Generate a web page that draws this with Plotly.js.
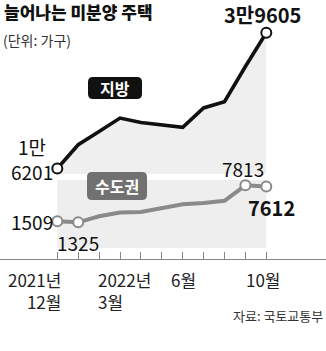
<!DOCTYPE html>
<html><head><meta charset="utf-8">
<script src="https://cdn.plot.ly/plotly-3.0.1.min.js"></script>
<style>html,body{margin:0;padding:0;background:#fff;overflow:hidden}</style>
</head><body><div id="chart" style="width:326px;height:351px"></div>
<script>
// ---- data ----
const months = ['2021-12','2022-01','2022-02','2022-03','2022-04','2022-05','2022-06','2022-07','2022-08','2022-09','2022-10'];
const jibang = [16201, 20300, 22600, 24900, 24150, 23750, 23300, 26650, 27730, 33790, 39605];
const sudogwon = [1509, 1325, 2400, 3050, 3150, 3850, 4500, 4700, 5100, 7813, 7612];
const jibangMarked = [0, 10];
const sudoMarked = [0, 1, 9, 10];
const tickLabels = [
  {i: 0, text: '2021년<br>12월'},
  {i: 3, text: '2022년<br>3월'},
  {i: 6, text: '6월'},
  {i: 10, text: '10월'}
];
const title = '늘어나는 미분양 주택';
const unit = '(단위: 가구)';
const source = '자료: 국토교통부';
const seriesNames = ['지방', '수도권'];

// ---- helpers ----
const W = 326, H = 351;
const PX = p => p / W, PY = p => 1 - p / H;
const NUM = '"Liberation Sans Narrow", "Noto Sans CJK KR", sans-serif';
const KR = '"Noto Sans CJK KR", sans-serif';
function roundRect(x0, y0, x1, y1, r) {
  const X = PX, Y = PY;
  return `M${X(x0+r)},${Y(y0)} L${X(x1-r)},${Y(y0)} Q${X(x1)},${Y(y0)} ${X(x1)},${Y(y0+r)} ` +
    `L${X(x1)},${Y(y1-r)} Q${X(x1)},${Y(y1)} ${X(x1-r)},${Y(y1)} L${X(x0+r)},${Y(y1)} ` +
    `Q${X(x0)},${Y(y1)} ${X(x0)},${Y(y1-r)} L${X(x0)},${Y(y0+r)} Q${X(x0)},${Y(y0)} ${X(x0+r)},${Y(y0)} Z`;
}
const fmtMan = (v, sep) => (v >= 10000 ? Math.floor(v / 10000) + '만' + sep : '') + String(v % 10000);

const BLACK = '#111111', GRAY = '#8a8a8a';

const traces = [
  {x: months, y: jibang, yaxis: 'y', mode: 'lines', line: {color: BLACK, width: 3.6},
   fill: 'tozeroy', fillcolor: '#efefef', hoverinfo: 'skip'},
  {x: jibangMarked.map(i => months[i]), y: jibangMarked.map(i => jibang[i]), yaxis: 'y', mode: 'markers',
   marker: {size: 10, color: '#fff', line: {color: BLACK, width: 2}}, cliponaxis: false, hoverinfo: 'skip'},
  {x: months, y: sudogwon, yaxis: 'y2', mode: 'lines', line: {color: GRAY, width: 4}, hoverinfo: 'skip'},
  {x: sudoMarked.map(i => months[i]), y: sudoMarked.map(i => sudogwon[i]), yaxis: 'y2', mode: 'markers',
   marker: {size: 10, color: '#fff', line: {color: GRAY, width: 2}}, cliponaxis: false, hoverinfo: 'skip'}
];

const annotations = [];
function paperText(text, x, y, size, opts = {}) {
  annotations.push(Object.assign({
    text, x: PX(x), y: PY(y), xref: 'paper', yref: 'paper', showarrow: false,
    xanchor: 'center', yanchor: 'middle',
    font: {family: KR, size, color: '#111'}
  }, opts));
}
function dataText(text, i, arr, axis, dx, dy, size, bold) {
  annotations.push({
    text, x: months[i], y: arr[i], xref: 'x', yref: axis, showarrow: false,
    xanchor: 'center', yanchor: 'middle', xshift: dx, yshift: dy,
    font: {family: NUM, size, color: '#111', weight: bold ? 700 : 400}
  });
}
// title / unit / source
paperText(title, 2, 12, 17, {xanchor: 'left', font: {family: KR, size: 17, color: '#111', weight: 900}});
paperText(unit, 1, 40, 14, {xanchor: 'left', font: {family: KR, size: 14, color: '#333'}});
paperText(source, 325, 315, 13, {xanchor: 'right', font: {family: KR, size: 13, color: '#333'}});

// value labels
dataText(fmtMan(jibang[0], '<br>'), 0, jibang, 'y', -25, 10, 19, false);
dataText(fmtMan(jibang[10], ''), 10, jibang, 'y', -4, 18, 20, true);
dataText(String(sudogwon[9]), 9, sudogwon, 'y2', -2, 17, 19, false);
dataText(String(sudogwon[10]), 10, sudogwon, 'y2', 5, -21, 20, true);
dataText(String(sudogwon[0]), 0, sudogwon, 'y2', -25, 0, 19, false);
dataText(String(sudogwon[1]), 1, sudogwon, 'y2', 0, -20, 19, false);

// x tick labels
const tickFont = {family: NUM, size: 17, color: '#222'};
tickLabels.forEach(t => {
  let xanchor = 'center', align = 'center', dx = 0;
  if (t.i === 0) { xanchor = 'right'; align = 'right'; dx = 6; }
  else if (t.i === 3) { xanchor = 'left'; align = 'left'; dx = -24; }
  else if (t.i === 10) { dx = -3; }
  else { dx = 1; }
  annotations.push({text: t.text, x: months[t.i], y: PY(265), xref: 'x', yref: 'paper', showarrow: false,
    xanchor, yanchor: 'top', align, xshift: dx, font: tickFont});
});

// series labels
paperText(seriesNames[0], 115, 88, 16, {font: {family: KR, size: 16, color: '#fff', weight: 700}});
paperText(seriesNames[1], 117, 186, 16, {font: {family: KR, size: 16, color: '#fff', weight: 700}});

const shapes = [
  {type: 'rect', xref: 'x', yref: 'y2 domain', x0: months[0], x1: months[months.length - 1], y0: 0, y1: 1,
   fillcolor: '#eeeeee', line: {width: 0}, layer: 'below'},
  {type: 'path', xref: 'paper', yref: 'paper', path: roundRect(88, 77, 142, 99, 5), fillcolor: '#111', line: {width: 0}},
  {type: 'path', xref: 'paper', yref: 'paper', path: roundRect(87, 172, 147, 200, 5), fillcolor: '#717171', line: {width: 0}}
];

const layout = {
  width: W, height: H, margin: {l: 0, r: 0, t: 0, b: 0},
  paper_bgcolor: '#fff', plot_bgcolor: 'rgba(0,0,0,0)', showlegend: false,
  xaxis: {type: 'category', range: [-2.742, 12.856], anchor: 'free', position: (H - 259) / H,
    showline: true, linecolor: '#888', linewidth: 1, ticks: 'inside', ticklen: 7, tickcolor: '#888',
    tickmode: 'array', tickvals: months, showticklabels: false, showgrid: false, zeroline: false, fixedrange: true},
  yaxis: {domain: [1 - 174 / H, 1], range: [15252, 45267], visible: false, fixedrange: true},
  yaxis2: {domain: [1 - 248 / H, 1 - 180 / H], range: [-3164, 8736], visible: false, fixedrange: true},
  annotations, shapes
};
Plotly.newPlot('chart', traces, layout, {staticPlot: true, displayModeBar: false});
</script></body></html>
